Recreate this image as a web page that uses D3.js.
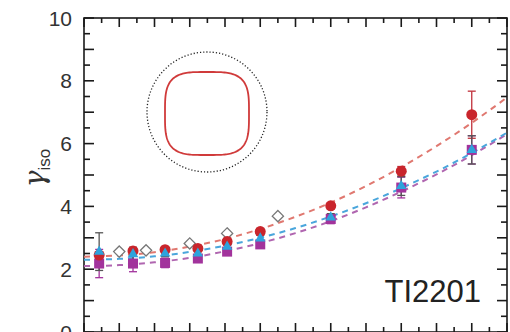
<!DOCTYPE html>
<html><head><meta charset="utf-8">
<script src="https://cdn.jsdelivr.net/npm/d3@7"></script>
<style>html,body{margin:0;padding:0;background:#fff;overflow:hidden}</style>
</head><body><svg id="c" width="510" height="332"></svg>
<script>
const xVals = [0.43, 1.39, 2.3, 3.23, 4.06, 5.0, 7.0, 9.0, 11.0];
const redVals = [2.45, 2.58, 2.62, 2.66, 2.88, 3.2, 4.02, 5.12, 6.92];
const blueVals = [2.56, 2.48, 2.5, 2.5, 2.72, 2.98, 3.65, 4.65, 5.8];
const purpleVals = [2.18, 2.18, 2.2, 2.34, 2.56, 2.79, 3.6, 4.6, 5.8];
const redErr = [0.1, 0.1, 0.1, 0.1, 0.1, 0.1, 0.1, 0.15, 0.75];
const blueErr = [0.6, 0.22, 0.1, 0.1, 0.1, 0.1, 0.12, 0.3, 0.45];
const purpleErr = [0.45, 0.26, 0.15, 0.12, 0.1, 0.1, 0.15, 0.33, 0.45];
const diamondX = [1.0, 1.76, 3.0, 4.06, 5.5];
const diamondY = [2.56, 2.6, 2.82, 3.14, 3.69];
const fitX = [0,1,2,3,4,5,6,7,8,9,10,11,12];
const redFit = [2.40,2.44,2.54,2.72,2.96,3.28,3.67,4.12,4.65,5.25,5.92,6.66,7.47];
const blueFit = [2.30,2.33,2.41,2.55,2.75,3.00,3.31,3.68,4.10,4.58,5.11,5.70,6.35];
const purpleFit = [2.10,2.13,2.22,2.36,2.57,2.83,3.15,3.53,3.97,4.47,5.02,5.63,6.30];
const yTickLabels = [0,2,4,6,8,10];
const sampleLabel = "TI2201";

const svg = d3.select("#c");
const x = d3.scaleLinear().domain([0,12]).range([84,507]);
const y = d3.scaleLinear().domain([0,10]).range([332,18]);

const red="#c9252c", redL="#e07870", blue="#2ea3dc", blueL="#4aa6dc", purple="#a2339c", purpleL="#b066b0";

// frame
svg.append("rect").attr("x",x(0)).attr("y",y(10)).attr("width",x(12)-x(0)).attr("height",y(0)-y(10))
  .attr("fill","none").attr("stroke","#1a1a1a").attr("stroke-width",1.6);

const halfTicks = d3.range(0,12.01,0.5);
const yHalf = d3.range(0,10.01,0.5);
const g = svg.append("g").attr("stroke","#1a1a1a").attr("stroke-width",1.6);
halfTicks.forEach(t=>{
  const L = Number.isInteger(t)?9:5;
  g.append("line").attr("x1",x(t)).attr("x2",x(t)).attr("y1",y(10)).attr("y2",y(10)+L);
  g.append("line").attr("x1",x(t)).attr("x2",x(t)).attr("y1",y(0)).attr("y2",y(0)-L);
});
yHalf.forEach(t=>{
  const L = Number.isInteger(t)?10:6;
  g.append("line").attr("y1",y(t)).attr("y2",y(t)).attr("x1",x(0)).attr("x2",x(0)+L);
  g.append("line").attr("y1",y(t)).attr("y2",y(t)).attr("x1",x(12)).attr("x2",x(12)-L);
});
svg.append("g").selectAll("text").data(yTickLabels).join("text")
  .attr("x",72).attr("y",d=>y(d)+7.5).attr("text-anchor","end")
  .attr("font-family","Liberation Sans, Arial, sans-serif").attr("font-size",21).attr("fill","#333")
  .text(d=>d);

// y label
const yl = svg.append("text").attr("transform","translate(44,168) rotate(-90)")
  .attr("text-anchor","middle").attr("font-family","DejaVu Serif, Liberation Serif, serif").attr("fill","#333");
yl.append("tspan").attr("font-size",28).attr("font-style","italic").text("γ");
yl.append("tspan").attr("font-size",17).attr("font-family","Liberation Sans, Arial, sans-serif").attr("dy",6).text("iso");

// inset
svg.append("circle").attr("cx",207).attr("cy",112).attr("r",60).attr("fill","none")
  .attr("stroke","#222").attr("stroke-width",1.3).attr("stroke-dasharray","1.2,2");
const n = 3.6, a = 42, b = 41.5, cx0 = 207, cy0 = 113.5;
const angles = d3.range(0, 2*Math.PI + 0.001, Math.PI/90);
const sq = d3.line().x(t=>cx0 + a*Math.sign(Math.cos(t))*Math.pow(Math.abs(Math.cos(t)),2/n))
  .y(t=>cy0 + b*Math.sign(Math.sin(t))*Math.pow(Math.abs(Math.sin(t)),2/n));
svg.append("path").attr("d",sq(angles)).attr("fill","none").attr("stroke","#d03a3a").attr("stroke-width",1.8);

// fits
const line = d3.line().x((d,i)=>x(fitX[i])).y(d=>y(d)).curve(d3.curveMonotoneX);
[[purpleFit,purpleL],[blueFit,blueL],[redFit,redL]].forEach(([f,c])=>{
  svg.append("path").attr("d",line(f)).attr("fill","none").attr("stroke",c)
    .attr("stroke-width",2).attr("stroke-dasharray","6,5");
});

// diamonds
svg.append("g").selectAll("path").data(diamondX).join("path")
  .attr("d",d3.symbol(d3.symbolDiamond2,80)())
  .attr("transform",(d,i)=>`translate(${x(d)},${y(diamondY[i])})`)
  .attr("fill","#fff").attr("stroke","#777").attr("stroke-width",1.3);

function errs(vals,err,col){
  const eg = svg.append("g").attr("stroke",col).attr("stroke-width",1.3);
  xVals.forEach((xv,i)=>{
    const cx=x(xv), y1=y(vals[i]+err[i]), y2=y(vals[i]-err[i]);
    eg.append("line").attr("x1",cx).attr("x2",cx).attr("y1",y1).attr("y2",y2);
    eg.append("line").attr("x1",cx-4).attr("x2",cx+4).attr("y1",y1).attr("y2",y1);
    eg.append("line").attr("x1",cx-4).attr("x2",cx+4).attr("y1",y2).attr("y2",y2);
  });
}
errs(purpleVals,purpleErr,purple);
errs(redVals,redErr,"#c0303a");
errs(blueVals,blueErr,"#555");

svg.append("g").selectAll("rect").data(xVals).join("rect")
  .attr("x",d=>x(d)-5).attr("y",(d,i)=>y(purpleVals[i])-5).attr("width",10).attr("height",10)
  .attr("fill",purple);
svg.append("g").selectAll("circle").data(xVals).join("circle")
  .attr("cx",d=>x(d)).attr("cy",(d,i)=>y(redVals[i])).attr("r",5.5).attr("fill",red);
svg.append("g").selectAll("path").data(xVals).join("path")
  .attr("d",d3.symbol(d3.symbolTriangle,48)())
  .attr("transform",(d,i)=>`translate(${x(d)},${y(blueVals[i])})`).attr("fill",blue);

svg.append("text").attr("x",481).attr("y",302).attr("text-anchor","end")
  .attr("font-family","Liberation Sans, Arial, sans-serif").attr("font-size",31).attr("fill","#222")
  .text(sampleLabel);
</script></body></html>
